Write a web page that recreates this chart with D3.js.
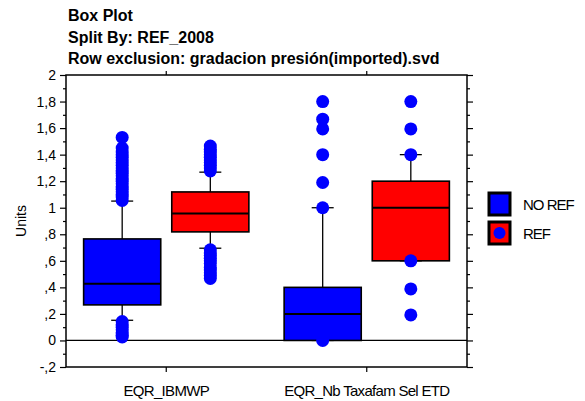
<!DOCTYPE html>
<html>
<head>
<meta charset="utf-8">
<script src="https://cdn.jsdelivr.net/npm/d3@7"></script>
<style>
  html, body { margin: 0; padding: 0; background: #fff; }
  svg { display: block; font-family: "Liberation Sans", Arial, sans-serif; }
</style>
</head>
<body>
<svg id="chart" width="585" height="401"></svg>
<script>
// Box plot: two measures split by REF_2008
const titleLines = ["Box Plot", "Split By: REF_2008", "Row exclusion: gradacion presión(imported).svd"];
const categories = ["EQR_IBMWP", "EQR_Nb Taxafam Sel ETD"];
const seriesNames = ["NO REF", "REF"];
const seriesColors = ["#0000ff", "#ff0000"];
const yTickValues = [-0.2, 0, 0.2, 0.4, 0.6, 0.8, 1, 1.2, 1.4, 1.6, 1.8, 2];
const yTickLabels = ["-,2", "0", ",2", ",4", ",6", ",8", "1", "1,2", "1,4", "1,6", "1,8", "2"];
const yMinorValues = [-0.1, 0.1, 0.3, 0.5, 0.7, 0.9, 1.1, 1.3, 1.5, 1.7, 1.9];
const yLabel = "Units";

// Box statistics per category: [lowerWhisker, q1, median, q3, upperWhisker]
const statsNoRef = [
  [0.152, 0.268, 0.428, 0.765, 1.05],
  [0, 0, 0.2, 0.4, 1.0]
];
const statsRef = [
  [0.695, 0.818, 0.956, 1.119, 1.268],
  [0.6, 0.6, 1.0, 1.2, 1.4]
];
// Outlying points per category
const outliersNoRef = [
  [0.026, 0.04, 0.06, 0.08, 0.10, 0.12, 0.143,
   1.055, 1.08, 1.10, 1.12, 1.14, 1.16, 1.18, 1.20, 1.22, 1.24, 1.26, 1.28,
   1.30, 1.32, 1.34, 1.36, 1.38, 1.40, 1.42, 1.45, 1.53],
  [0, 1.0, 1.19, 1.4, 1.594, 1.667, 1.8]
];
const outliersRef = [
  [0.467, 0.49, 0.51, 0.53, 0.55, 0.58, 0.60, 0.62, 0.64, 0.66, 0.683,
   1.277, 1.30, 1.32, 1.34, 1.36, 1.38, 1.40, 1.42, 1.44, 1.465],
  [0.192, 0.388, 0.6, 1.4, 1.594, 1.8]
];
const outlierColor = "#0000ff";

const svg = d3.select("#chart");
const plot = { left: 66, right: 467, top: 75, bottom: 367 };

const y = d3.scaleLinear().domain([-0.2, 2]).range([plot.bottom, plot.top]);
const x = d3.scaleBand().domain(categories).range([plot.left, plot.right]).padding(0);
const xs = d3.scaleBand().domain(seriesNames).range([0, x.bandwidth()])
  .paddingInner(0.125).paddingOuter(0.2);

// Titles
svg.append("g").selectAll("text").data(titleLines).join("text")
  .attr("x", 68).attr("y", (d, i) => 21 + i * 21.5)
  .attr("font-size", 16).attr("font-weight", "bold")
  .text(d => d);

// Zero reference line
svg.append("line")
  .attr("x1", plot.left).attr("x2", plot.right)
  .attr("y1", y(0)).attr("y2", y(0))
  .attr("stroke", "#000").attr("stroke-width", 1.2);

// Boxes, whiskers, outliers
const groups = [
  { name: seriesNames[0], color: seriesColors[0], stats: statsNoRef, outs: outliersNoRef },
  { name: seriesNames[1], color: seriesColors[1], stats: statsRef, outs: outliersRef }
];
const capHalf = 11;
groups.forEach(g => {
  categories.forEach((cat, ci) => {
    const s = g.stats[ci];
    const x0 = x(cat) + xs(g.name);
    const w = xs.bandwidth();
    const cx = x0 + w / 2;
    const gg = svg.append("g");
    // whiskers
    gg.append("line").attr("x1", cx).attr("x2", cx).attr("y1", y(s[3])).attr("y2", y(s[4]))
      .attr("stroke", "#000").attr("stroke-width", 1.3);
    gg.append("line").attr("x1", cx).attr("x2", cx).attr("y1", y(s[1])).attr("y2", y(s[0]))
      .attr("stroke", "#000").attr("stroke-width", 1.3);
    [s[0], s[4]].forEach(v => {
      gg.append("line").attr("x1", cx - capHalf).attr("x2", cx + capHalf)
        .attr("y1", y(v)).attr("y2", y(v)).attr("stroke", "#000").attr("stroke-width", 1.3);
    });
    // box
    gg.append("rect").attr("x", x0).attr("width", w)
      .attr("y", y(s[3])).attr("height", y(s[1]) - y(s[3]))
      .attr("fill", g.color).attr("stroke", "#000").attr("stroke-width", 1.6);
    // median
    gg.append("line").attr("x1", x0).attr("x2", x0 + w)
      .attr("y1", y(s[2])).attr("y2", y(s[2]))
      .attr("stroke", "#000").attr("stroke-width", 2);
  });
});
groups.forEach(g => {
  categories.forEach((cat, ci) => {
    const cx = x(cat) + xs(g.name) + xs.bandwidth() / 2;
    svg.append("g").selectAll("circle").data(g.outs[ci]).join("circle")
      .attr("cx", cx).attr("cy", d => y(d)).attr("r", 6.5)
      .attr("fill", outlierColor);
  });
});

// Frame
svg.append("rect")
  .attr("x", plot.left).attr("y", plot.top)
  .attr("width", plot.right - plot.left).attr("height", plot.bottom - plot.top)
  .attr("fill", "none").attr("stroke", "#000").attr("stroke-width", 1.5);

// Y axis (left) with major labels
const yAxis = d3.axisLeft(y).tickValues(yTickValues)
  .tickFormat((d, i) => yTickLabels[i]).tickSize(6).tickPadding(4);
const ya = svg.append("g").attr("transform", `translate(${plot.left},0)`).call(yAxis);
ya.select(".domain").remove();
ya.selectAll("text").attr("font-size", 14).attr("font-family", "Liberation Sans, Arial, sans-serif")
  .attr("fill", "#000");
ya.selectAll("line").attr("stroke", "#000").attr("stroke-width", 1.2);
const yMinor = svg.append("g").attr("transform", `translate(${plot.left},0)`)
  .call(d3.axisLeft(y).tickValues(yMinorValues).tickFormat("").tickSize(3));
yMinor.select(".domain").remove();
yMinor.selectAll("line").attr("stroke", "#000").attr("stroke-width", 1.2);

// Right axis ticks
const yr = svg.append("g").attr("transform", `translate(${plot.right},0)`)
  .call(d3.axisRight(y).tickValues(yTickValues).tickFormat("").tickSize(6));
yr.select(".domain").remove();
yr.selectAll("line").attr("stroke", "#000").attr("stroke-width", 1.2);
const yr2 = svg.append("g").attr("transform", `translate(${plot.right},0)`)
  .call(d3.axisRight(y).tickValues(yMinorValues).tickFormat("").tickSize(3));
yr2.select(".domain").remove();
yr2.selectAll("line").attr("stroke", "#000").attr("stroke-width", 1.2);

// X axis (bottom) with category labels
const xa = svg.append("g").attr("transform", `translate(0,${plot.bottom})`)
  .call(d3.axisBottom(x).tickSize(5).tickPadding(13));
xa.select(".domain").remove();
xa.selectAll("line").attr("stroke", "#000").attr("stroke-width", 1.2);
xa.selectAll("text").attr("font-size", 15).attr("letter-spacing", -0.7)
  .attr("font-family", "Liberation Sans, Arial, sans-serif").attr("fill", "#000");
// Top ticks
const xt = svg.append("g").attr("transform", `translate(0,${plot.top})`)
  .call(d3.axisTop(x).tickSize(4).tickFormat(""));
xt.select(".domain").remove();
xt.selectAll("line").attr("stroke", "#000").attr("stroke-width", 1.2);

// Y label
svg.append("text")
  .attr("transform", `translate(26,221) rotate(-90)`)
  .attr("text-anchor", "middle").attr("font-size", 14)
  .text(yLabel);

// Legend
const legend = svg.append("g").attr("transform", "translate(489,193)");
seriesNames.forEach((name, i) => {
  const lg = legend.append("g").attr("transform", `translate(0,${i * 29})`);
  lg.append("rect").attr("x", 0).attr("y", 0).attr("width", 21).attr("height", 22)
    .attr("fill", seriesColors[i]).attr("stroke", "#000").attr("stroke-width", 3);
  if (i === 1) {
    lg.append("circle").attr("cx", 10.5).attr("cy", 11).attr("r", 6).attr("fill", outlierColor);
  }
  lg.append("text").attr("x", 34).attr("y", 17)
    .attr("font-size", 15).attr("letter-spacing", -1).text(name);
});
</script>
</body>
</html>
